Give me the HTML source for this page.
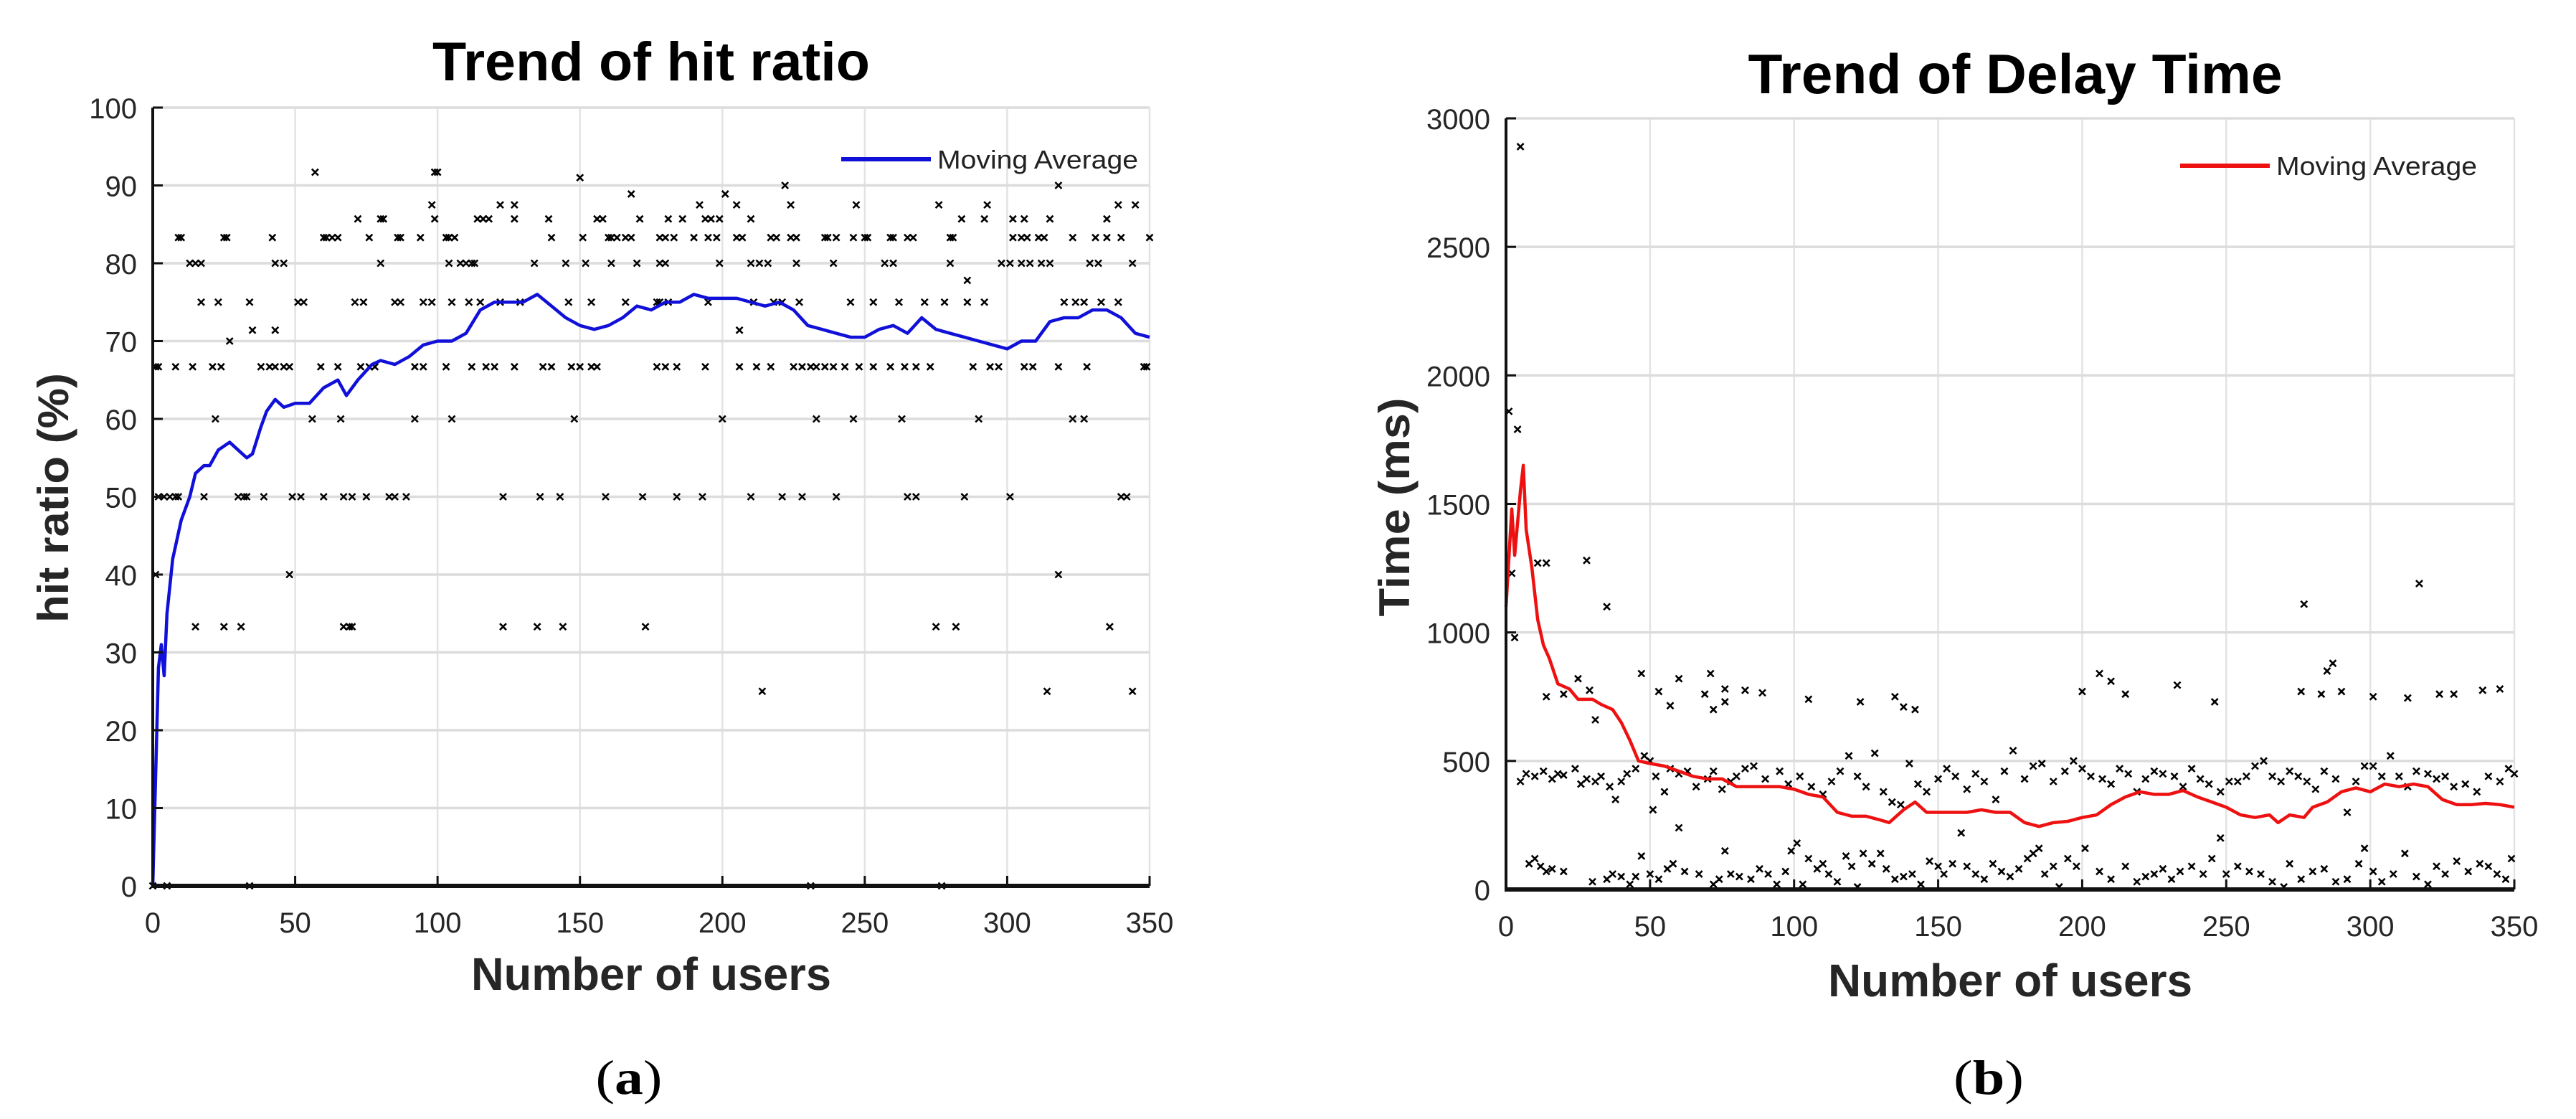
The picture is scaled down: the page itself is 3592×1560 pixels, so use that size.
<!DOCTYPE html>
<html><head><meta charset="utf-8"><style>
html,body{margin:0;padding:0;background:#fff;}
svg{display:block;font-family:"Liberation Sans",Arial,sans-serif;}
</style></head><body>
<svg id="fig" width="3592" height="1560" viewBox="0 0 3592 1560" xmlns="http://www.w3.org/2000/svg">
<rect width="3592" height="1560" fill="#fff"/>
<g id="chartA"></g>
<g id="chartB"></g>
<text x="908" y="112" font-size="76" font-weight="bold" text-anchor="middle" textLength="610" lengthAdjust="spacingAndGlyphs">Trend of hit ratio</text>
<text x="2810" y="130" font-size="78" font-weight="bold" text-anchor="middle" textLength="745" lengthAdjust="spacingAndGlyphs">Trend of Delay Time</text>
<text x="908" y="1380" font-size="64" font-weight="bold" text-anchor="middle" fill="#262626" textLength="502" lengthAdjust="spacingAndGlyphs">Number of users</text>
<text x="2803" y="1389" font-size="64" font-weight="bold" text-anchor="middle" fill="#262626" textLength="508" lengthAdjust="spacingAndGlyphs">Number of users</text>
<text transform="translate(95,694) rotate(-90)" font-size="60" font-weight="bold" text-anchor="middle" fill="#262626" textLength="348" lengthAdjust="spacingAndGlyphs">hit ratio (%)</text>
<text transform="translate(1965,707) rotate(-90)" font-size="60" font-weight="bold" text-anchor="middle" fill="#262626" textLength="305" lengthAdjust="spacingAndGlyphs">Time (ms)</text>
<text x="877" y="1525" font-size="68" text-anchor="middle" font-family="Liberation Serif, serif" textLength="93" lengthAdjust="spacingAndGlyphs">(<tspan font-weight="bold">a</tspan>)</text>
<text x="2773" y="1525" font-size="68" text-anchor="middle" font-family="Liberation Serif, serif" textLength="98" lengthAdjust="spacingAndGlyphs">(<tspan font-weight="bold">b</tspan>)</text>
</svg>
<script>
// ---- Chart A data ----
const xTicks = [0,50,100,150,200,250,300,350];
const yTicksA = [0,10,20,30,40,50,60,70,80,90,100];
const yTicksB = [0,500,1000,1500,2000,2500,3000];
const maAx = [0,2,3,4,5,7,10,13,15,18,20,23,27,30,33,35,38,40,43,46,50,55,60,65,68,72,77,80,85,90,95,100,105,110,115,120,125,130,135,140,145,150,155,160,165,170,175,180,185,190,195,200,205,210,215,220,225,230,235,240,245,250,255,260,265,270,275,280,285,290,295,300,305,310,315,320,325,330,335,340,345,350];
const maAy = [0,28,31,27,35,42,47,50,53,54,54,56,57,56,55,55.5,59,61,62.5,61.5,62,62,64,65,63,65,67,67.5,67,68,69.5,70,70,71,74,75,75,75,76,74.5,73,72,71.5,72,73,74.5,74,75,75,76,75.5,75.5,75.5,75,74.5,75,74,72,71.5,71,70.5,70.5,71.5,72,71,73,71.5,71,70.5,70,69.5,69,70,70,72.5,73,73,74,74,73,71,70.5];
const ptA_x = [57,99,150,100,222,318,201,168,
98,122,127,192,205,224,247,276,293,339,345,
72,80,81,99,114,116,118,127,139,156,158,171,181,186,194,196,199,210,284,292,302,306,315,335,
9,10,25,26,42,60,61,63,65,76,86,87,94,103,104,106,140,151,160,161,163,166,168,178,180,183,190,195,198,205,207,217,219,224,226,236,237,240,246,250,251,259,260,265,267,280,281,302,305,307,311,313,323,331,335,340,350,
13,15,17,43,46,80,104,108,110,112,113,134,145,152,161,170,178,180,199,210,213,216,226,239,257,260,280,298,301,305,308,312,315,329,332,344,
286,
17,23,34,51,53,71,74,85,87,95,98,105,111,115,122,129,146,154,166,177,178,181,195,211,218,221,227,245,253,262,271,278,286,292,320,324,327,333,339,
35,43,206,27,
1,2,8,14,21,24,38,41,43,46,48,59,65,73,76,78,92,95,103,112,117,120,127,137,140,147,150,154,156,177,180,184,194,206,212,217,225,228,231,233,236,239,243,248,253,259,264,268,273,288,294,297,306,309,318,328,348,349,
22,56,66,92,105,148,200,233,246,263,290,323,327,
2,4,6,8,9,18,30,32,33,39,49,52,60,67,70,75,83,85,89,123,136,143,159,172,184,193,210,221,228,240,265,268,285,301,340,342,
1,48,318,
15,25,31,67,69,70,123,135,144,173,275,282,336,
214,314,344,
0,5,34,231,277];
const ptA_y = [91.7,91.7,91,91.7,90,90,88.9,88.9,
87.5,87.5,87.5,87.5,87.5,87.5,87.5,87.5,87.5,87.5,87.5,
85.7,85.7,85.7,85.7,85.7,85.7,85.7,85.7,85.7,85.7,85.7,85.7,85.7,85.7,85.7,85.7,85.7,85.7,85.7,85.7,85.7,85.7,85.7,85.7,
83.3,83.3,83.3,83.3,83.3,83.3,83.3,83.3,83.3,83.3,83.3,83.3,83.3,83.3,83.3,83.3,83.3,83.3,83.3,83.3,83.3,83.3,83.3,83.3,83.3,83.3,83.3,83.3,83.3,83.3,83.3,83.3,83.3,83.3,83.3,83.3,83.3,83.3,83.3,83.3,83.3,83.3,83.3,83.3,83.3,83.3,83.3,83.3,83.3,83.3,83.3,83.3,83.3,83.3,83.3,83.3,83.3,
80,80,80,80,80,80,80,80,80,80,80,80,80,80,80,80,80,80,80,80,80,80,80,80,80,80,80,80,80,80,80,80,80,80,80,80,
77.8,
75,75,75,75,75,75,75,75,75,75,75,75,75,75,75,75,75,75,75,75,75,75,75,75,75,75,75,75,75,75,75,75,75,75,75,75,75,75,75,
71.4,71.4,71.4,70,
66.7,66.7,66.7,66.7,66.7,66.7,66.7,66.7,66.7,66.7,66.7,66.7,66.7,66.7,66.7,66.7,66.7,66.7,66.7,66.7,66.7,66.7,66.7,66.7,66.7,66.7,66.7,66.7,66.7,66.7,66.7,66.7,66.7,66.7,66.7,66.7,66.7,66.7,66.7,66.7,66.7,66.7,66.7,66.7,66.7,66.7,66.7,66.7,66.7,66.7,66.7,66.7,66.7,66.7,66.7,66.7,66.7,66.7,
60,60,60,60,60,60,60,60,60,60,60,60,60,
50,50,50,50,50,50,50,50,50,50,50,50,50,50,50,50,50,50,50,50,50,50,50,50,50,50,50,50,50,50,50,50,50,50,50,50,
40,40,40,
33.3,33.3,33.3,33.3,33.3,33.3,33.3,33.3,33.3,33.3,33.3,33.3,33.3,
25,25,25,
0,0,0,0,0];
// ---- Chart B data ----
const maBx = [0,2,3,5,6,7,9,11,13,15,18,22,25,30,33,37,40,43,46,50,55,60,65,70,75,80,85,90,95,100,105,110,115,120,125,130,133,138,142,146,150,155,160,165,170,175,180,185,190,195,200,205,210,215,220,225,230,235,240,245,250,255,260,265,268,272,277,280,285,290,295,300,305,310,315,320,325,330,335,340,345,350];
const maBy = [1100,1480,1300,1550,1650,1400,1250,1050,950,900,800,780,740,740,720,700,650,580,500,490,480,460,440,430,430,400,400,400,400,390,370,360,300,285,285,270,260,310,340,300,300,300,300,310,300,300,260,245,260,265,280,290,330,360,380,370,370,385,360,340,320,290,280,290,260,290,280,320,340,380,395,380,410,400,410,400,350,330,330,335,330,320];
const ptB_x = [5,1,4,2,3,11,14,28,35,25,29,14,20,31,47,60,71,69,76,83,89,72,76,53,57,105,123,135,138,142,200,206,210,215,233,246,277,276,283,285,287,290,301,313,324,329,339,345,317,
5,7,10,13,16,18,20,24,26,28,31,33,36,38,40,42,45,48,50,52,55,57,60,63,66,70,72,75,78,80,83,86,90,95,98,102,106,110,113,116,119,122,125,128,131,134,137,140,143,146,150,153,156,160,163,166,170,173,176,180,183,186,190,194,197,200,203,207,210,213,216,219,222,225,228,232,235,238,241,244,248,251,254,257,260,263,266,269,272,275,278,281,284,288,292,295,298,301,304,307,310,313,316,320,323,326,329,333,337,341,345,348,350,60,51,
8,10,12,14,16,20,30,35,37,40,43,45,47,50,53,56,58,62,67,72,74,76,78,81,85,88,91,94,97,99,101,103,105,108,110,112,115,118,120,122,124,127,130,132,135,138,141,144,147,150,152,155,158,160,163,166,169,172,175,178,181,183,185,187,190,192,195,198,201,206,210,215,219,222,225,228,231,234,238,242,245,248,250,254,258,262,266,270,272,276,280,284,288,292,296,298,301,304,308,312,316,320,323,326,330,334,338,341,344,347,349];
const ptB_y = [2890,1860,1790,1230,980,1270,1270,1280,1100,820,775,750,760,660,840,820,840,760,780,775,765,700,730,770,715,740,730,750,710,700,770,840,810,760,795,730,1110,770,760,850,880,770,750,745,760,760,775,780,1190,
420,450,440,460,430,450,445,470,410,430,420,440,400,350,420,450,470,520,500,440,380,470,450,460,400,430,460,390,420,440,470,480,430,460,410,440,400,370,420,460,520,440,400,530,380,340,330,490,410,380,430,470,440,390,450,420,350,460,540,430,480,490,420,460,500,470,440,430,410,470,450,380,430,460,450,440,400,470,430,410,380,420,420,440,480,500,440,420,460,440,420,390,460,430,300,420,480,480,440,520,440,400,460,450,430,440,400,410,380,440,420,470,450,240,310,
100,120,90,70,80,70,30,40,60,50,20,50,130,60,40,80,100,70,60,20,40,150,60,50,40,80,60,20,70,150,180,20,120,80,100,60,30,130,90,10,140,100,140,80,40,50,60,20,110,90,60,100,220,90,60,40,100,70,50,80,120,140,160,60,90,10,120,90,160,70,40,90,30,50,60,80,40,70,90,60,120,200,60,90,70,60,30,10,100,40,70,80,30,40,100,160,70,30,60,140,50,20,90,60,110,70,100,90,60,40,120];

const NS = "http://www.w3.org/2000/svg";
function mk(parent, tag, attrs){ const e=document.createElementNS(NS,tag); for(const k in attrs) e.setAttribute(k,attrs[k]); parent.appendChild(e); return e; }

function drawChart(g, cfg){
  const sx = v => cfg.x0 + (v - 0) / 350 * (cfg.x1 - cfg.x0);
  const sy = v => cfg.y0 - v / cfg.ymax * (cfg.y0 - cfg.y1);
  // grid
  xTicks.forEach(t => { if(t>0){
    const l = mk(g,'line',{x1:sx(t),x2:sx(t),y1:cfg.y1,y2:cfg.y0,stroke:'#e3e3e3','stroke-width':2.5});
    
    
  }});
  cfg.yTicks.forEach(t => { if(t>0){
    const l = mk(g,'line',{x1:cfg.x0,x2:cfg.x1,y1:sy(t),y2:sy(t),stroke:'#dcdcdc','stroke-width':3.5});
    
    
  }});
  // scatter
  const sc = mk(g,'g',{stroke:'#000','stroke-width':2.6});
  
  
  let d='';
  for(let i=0;i<cfg.px.length;i++){
    const x=sx(cfg.px[i]), y=sy(cfg.py[i]), r=4.5;
    d+=`M${x-r},${y-r}L${x+r},${y+r}M${x-r},${y+r}L${x+r},${y-r}`;
  }
  const sp = mk(sc,'path',{d:d,fill:'none'});
  
  
  // MA line
  const pts = cfg.mx.map((v,i)=>sx(v)+','+sy(cfg.my[i])).join(' ');
  const ml = mk(g,'polyline',{points:pts,fill:'none',stroke:cfg.color,'stroke-width':4.5,'stroke-linejoin':'round'});
  
  
  // axes
  const ax = mk(g,'line',{x1:cfg.x0,x2:cfg.x0,y1:cfg.y1,y2:cfg.y0+2,stroke:'#111','stroke-width':4});
  
  
  const bx = mk(g,'line',{x1:cfg.x0-2,x2:cfg.x1,y1:cfg.y0,y2:cfg.y0,stroke:'#111','stroke-width':6});
  
  
  // ticks & labels
  xTicks.forEach(t => {
    mk(g,'line',{x1:sx(t),x2:sx(t),y1:cfg.y0,y2:cfg.y0-14,stroke:'#111','stroke-width':3});
    const tx = mk(g,'text',{x:sx(t),y:cfg.xlabY,'font-size':40,'text-anchor':'middle',fill:'#262626'});
    tx.textContent = t;
    
    
  });
  cfg.yTicks.forEach(t => {
    mk(g,'line',{x1:cfg.x0,x2:cfg.x0+14,y1:sy(t),y2:sy(t),stroke:'#111','stroke-width':3});
    const tx = mk(g,'text',{x:cfg.x0-22,y:sy(t)+15,'font-size':40,'text-anchor':'end',fill:'#262626'});
    tx.textContent = t;
    
    
  });
  // legend
  const lg = mk(g,'g',{});
  
  
  mk(lg,'line',{x1:cfg.lgx,x2:cfg.lgx+125,y1:cfg.lgy,y2:cfg.lgy,stroke:cfg.color,'stroke-width':6});
  const lt = mk(lg,'text',{x:cfg.lgx+134,y:cfg.lgy+13,'font-size':36,fill:'#222',textLength:280,lengthAdjust:'spacingAndGlyphs'});
  lt.textContent='Moving Average';
  
  
}

drawChart(document.getElementById('chartA'),{x0:213,x1:1603,y0:1235,y1:150,ymax:100,yTicks:yTicksA,xlabY:1300,
  px:ptA_x,py:ptA_y,mx:maAx,my:maAy,color:'#1010d8',lgx:1173,lgy:222});
drawChart(document.getElementById('chartB'),{x0:2100,x1:3506,y0:1240,y1:165,ymax:3000,yTicks:yTicksB,xlabY:1305,
  px:ptB_x,py:ptB_y,mx:maBx,my:maBy,color:'#ee1111',lgx:3040,lgy:231});
</script>
</body></html>
